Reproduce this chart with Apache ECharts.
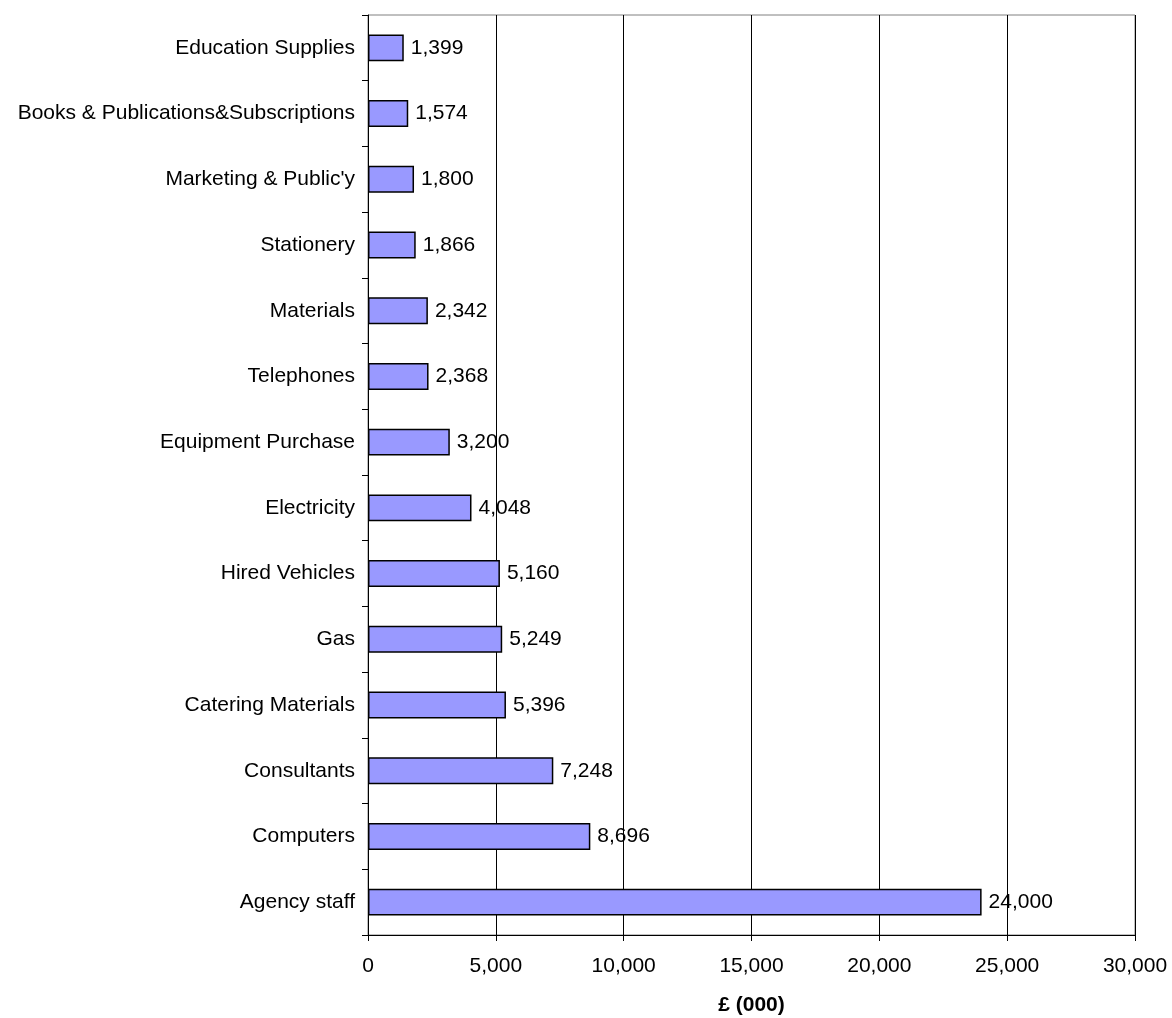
<!DOCTYPE html>
<html><head><meta charset="utf-8">
<script src="https://cdn.jsdelivr.net/npm/echarts@6/dist/echarts.min.js"></script>
<style>html,body{margin:0;padding:0;background:#fff}#c{width:1172px;height:1018px}</style>
</head><body><div id="c"></div>
<script>
const categories = ["Agency staff","Computers","Consultants","Catering Materials","Gas","Hired Vehicles","Electricity","Equipment Purchase","Telephones","Materials","Stationery","Marketing & Public'y","Books & Publications&Subscriptions","Education Supplies"];
const values = [24000,8696,7248,5396,5249,5160,4048,3200,2368,2342,1866,1800,1574,1399];
const xTicks = [0,5000,10000,15000,20000,25000,30000];
const axisName = "£ (000)";

const fmt = v => Number(v).toLocaleString('en-US');
const font = 'Liberation Sans, Arial, sans-serif';
const chart = echarts.init(document.getElementById('c'));
chart.setOption({
  animation:false,
  backgroundColor:'#fff',
  grid:{left:368, top:15, right:37, bottom:83, outerBoundsMode:'none', containLabel:false, show:true, borderColor:'#808080', borderWidth:1, backgroundColor:'transparent'},
  xAxis:{
    type:'value', min:xTicks[0], max:xTicks[xTicks.length-1], interval:5000,
    name:axisName, nameLocation:'middle', nameGap:60,
    nameTextStyle:{fontFamily:font, fontSize:21, fontWeight:'bold', color:'#000'},
    axisLine:{show:true, lineStyle:{color:'#000', width:1}},
    axisTick:{show:true, length:6, lineStyle:{color:'#000'}},
    axisLabel:{fontFamily:font, fontSize:21, color:'#000', margin:21, formatter:v=>fmt(v)},
    splitLine:{show:true, lineStyle:{color:'#000', width:1}}
  },
  yAxis:{
    type:'category', data:categories, boundaryGap:true,
    axisLine:{show:true, lineStyle:{color:'#000', width:1}},
    axisTick:{show:true, length:6, alignWithLabel:false, lineStyle:{color:'#000'}},
    axisLabel:{fontFamily:font, fontSize:21, color:'#000', margin:13},
    splitLine:{show:false}
  },
  series:[{
    type:'bar', data:values, barCategoryGap:'59%',
    itemStyle:{color:'#9999FF', borderColor:'#000', borderWidth:1.5},
    label:{show:true, position:'right', distance:7, fontFamily:font, fontSize:21, color:'#000', formatter:p=>fmt(p.value)}
  }]
});
</script></body></html>
